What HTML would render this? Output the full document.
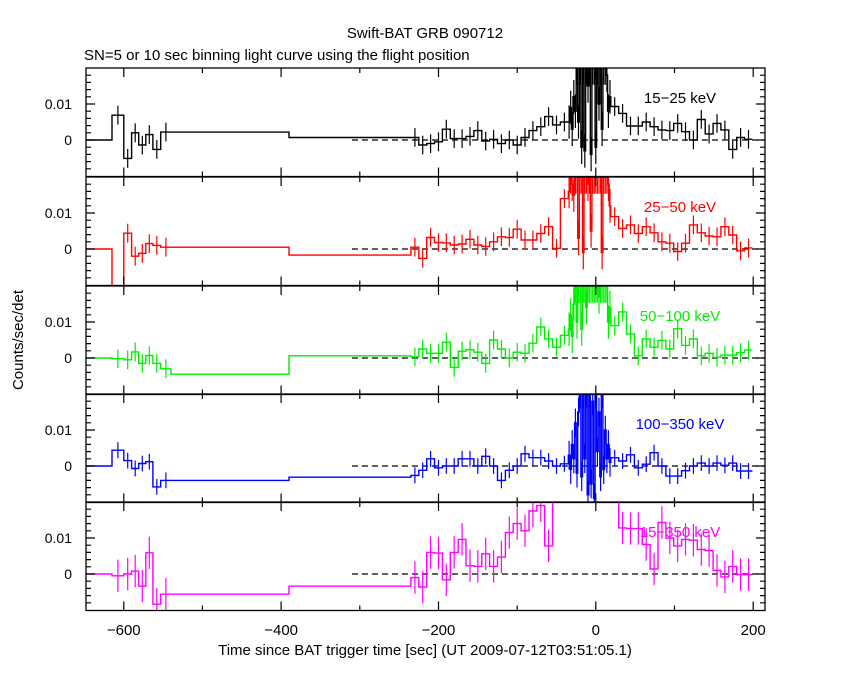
<!DOCTYPE html>
<html><head><meta charset="utf-8"><style>
body{margin:0;background:#fff;}
svg text{font-family:"Liberation Sans",sans-serif;}
</style></head><body>
<svg id="chart" width="850" height="680" xmlns="http://www.w3.org/2000/svg">
<rect width="850" height="680" fill="#fff"/>
<text x="425" y="38" font-size="15" text-anchor="middle">Swift-BAT GRB 090712</text>
<text x="84" y="60" font-size="15">SN=5 or 10 sec binning light curve using the flight position</text>
<text x="0" y="0" font-size="15" text-anchor="middle" transform="translate(23,340) rotate(-90)">Counts/sec/det</text>
<text x="425" y="655" font-size="15" text-anchor="middle">Time since BAT trigger time [sec] (UT 2009-07-12T03:51:05.1)</text>
<g id="plots"></g>
</svg>
<script>
// ---- data (values in units of 0.001 counts/sec/det) ----
const xTicks = [-600, -400, -200, 0, 200];
const xTickLabels = ["-600", "-400", "-200", "0", "200"];
const yTicks = [0, 0.01];
const yTickLabels = ["0", "0.01"];
const bandLabels = ["15\u221225 keV", "25\u221250 keV", "50\u2212100 keV", "100\u2212350 keV", "15\u2212350 keV"];
const bandColors = ["#000000", "#ff0000", "#00ee00", "#0000ff", "#ff00ff"];
const preEdges = [-648, -615, -600, -590, -581, -572, -563, -553, -540, -390, -235];
const pre1 = [0, 6.9, -5.1, 2.0, -1.4, 1.5, -2.6, 2.2, 2.2, 0.7];
const pre2 = [0, -15, 4.4, -2.0, -1.2, 1.5, 1.0, 0.5, 0.5, -1.7];
const pre3 = [0, -0.2, -0.5, 1.7, -1.5, 0.7, -1.5, -3.0, -4.5, 0.6];
const pre4 = [0, 4.4, 1.5, -0.7, 0.7, 1.2, -5.8, -4.0, -4.0, -3.1];
const pre5 = [0, -0.5, 0, 0.8, -3.4, 5.9, -8.4, -5.6, -5.6, -3.4];
const main1 = [0.7,-1.4,-1,-0.5,3,0.4,0.4,1,2.6,-0.3,0.2,-1,0,-1.4,0.7,2.6,3.7,6.5,4.2,5];
const main2 = [0.5,-2.6,3.2,1.8,1.7,1.1,1.4,2.7,1.1,0.7,2,3.4,3.2,5.5,2.5,2.5,4.3,6.2,0.2,14];
const main3 = [0.3,2.5,1.3,1.3,4.4,-2.6,1.9,2.3,1.6,-1.5,5,2.5,0,1.6,1.3,4.1,8.6,5.3,3,6.3];
const main4 = [-2.6,-1.2,2,-0.5,0,0,2,2,0,2.7,0,-4,-1.2,0,3.4,2.3,2.3,1.4,0,0.6];
const main5 = [-1,-3.6,6,5.8,-1.6,6,9.6,2.3,2.1,5.6,2.1,4.7,11.5,14,12,17.5,19,7.8,30,30];
const peak1 = [5,9,3,12,8,20,5,20,-2,20,-3,20,15,20,-4,20,20,-2,20,10,20,3,20,20,18,8,12];
const peak2 = [16,20,18,15,20,20,3,20,20,-1,20,20,18,20,5,20,20,20,20,20,20,-1,20,20,20,18,12];
const peak3 = [8,12,6,15,20,10,20,20,8,20,20,14,20,20,20,20,20,20,20,17,20,20,20,20,20,10,14];
const peak4 = [3,-1,6,2,12,-2,15,20,-3,20,2,20,-8,20,-5,18,-9,20,4,15,-3,20,-1,10,2,6,1];
const peak5 = [30,30,30,30,30,30,30,30,30,30,30,30,30,30,30,30,30,30,30,30,30,30,30,30,30,30,30];
const post1 = [9.3,7.4,3.9,3.9,5,3.7,2.8,2.6,4.6,2.3,0,5.7,1.7,4.6,2.8,-2.6,0.7,0.2];
const post2 = [9,5.7,6.7,4.3,6.2,4.5,2,1.6,-0.7,1.6,6.7,4.5,3.6,3.4,6.2,3.9,-0.5,0.3];
const post3 = [9,12.8,6.7,0.6,5.3,3,4.9,2.5,8.1,3.5,5.3,0.6,1.3,0.2,0.8,0.8,1.5,2.2];
const post4 = [2.3,1.4,3.1,-0.5,0.5,3.7,0,-2.8,-2.8,-1.3,0,0.8,0,0.8,0.2,0.8,-1.4,-1.4];
const post5 = [30,12.8,12.6,12.6,8.2,1.4,14.3,10,7.8,9.6,9.4,6.8,6.5,1,-0.8,2.1,-0.2,-0.2];
const errs = [2.6, 2.6, 2.6, 2.2, 4.5];

const pre = [pre1, pre2, pre3, pre4, pre5];
const mains = [main1, main2, main3, main4, main5];
const peaks = [peak1, peak2, peak3, peak4, peak5];
const posts = [post1, post2, post3, post4, post5];

// ---- axes ----
const X0 = 86, X1 = 765, T0 = -648, T1 = 215;
const panelTops = [68, 177, 286, 394, 502];
const panelH = 108.5;
function xs(t){ return X0 + (t - T0) * (X1 - X0) / (T1 - T0); }
function ys(p, v){ return panelTops[p] + 72 - v * 3.6; } // v in 0.001 units

const NS = "http://www.w3.org/2000/svg";
const root = document.getElementById("plots");
function mk(tag, attrs, parent){
  const e = document.createElementNS(NS, tag);
  for (const k in attrs) e.setAttribute(k, attrs[k]);
  (parent || root).appendChild(e);
  return e;
}

for (let p = 0; p < 5; p++){
  const top = panelTops[p], bot = top + panelH;
  const g = mk("g", {});
  
  
  const cp = mk("clipPath", {id: "clip" + p}, g);
  mk("rect", {x: X0, y: top, width: X1 - X0, height: panelH}, cp);

  const bins = [];
  for (let i = 0; i < pre[p].length; i++) bins.push([preEdges[i], preEdges[i+1], pre[p][i], i >= 1 && i <= 7]);
  for (let i = 0; i < mains[p].length; i++) bins.push([-235 + 10*i, -225 + 10*i, mains[p][i], true]);
  for (let i = 0; i < peaks[p].length; i++) bins.push([-35 + 2*i, -33 + 2*i, peaks[p][i], true]);
  for (let i = 0; i < posts[p].length; i++) bins.push([19 + 10*i, 29 + 10*i, posts[p][i], true]);

  const dz = mk("line", {x1: xs(-310), x2: X1, y1: ys(p,0), y2: ys(p,0), stroke: "#000", "stroke-width": 1.3, "stroke-dasharray": "6,4"}, g);
  
  

  const data = mk("g", {"clip-path": "url(#clip" + p + ")"}, g);
  let d = "";
  bins.forEach((b, i) => {
    const x1 = xs(b[0]), x2 = xs(b[1]), y = ys(p, b[2]);
    d += (i === 0 ? "M" : "L") + x1.toFixed(1) + "," + y.toFixed(1) + "L" + x2.toFixed(1) + "," + y.toFixed(1);
  });
  const path = mk("path", {d: d, fill: "none", stroke: bandColors[p], "stroke-width": 1.4}, data);
  
  
  let ed = "";
  bins.forEach(b => {
    if (!b[3]) return;
    const xc = xs((b[0] + b[1]) / 2);
    const e = b[0] >= -35 && b[1] <= 19 ? errs[p] * 1.8 : errs[p];
    ed += "M" + xc.toFixed(1) + "," + ys(p, b[2] + e).toFixed(1) + "L" + xc.toFixed(1) + "," + ys(p, b[2] - e).toFixed(1);
  });
  const eb = mk("path", {d: ed, fill: "none", stroke: bandColors[p], "stroke-width": 1.2}, data);
  
  

  const fr = mk("rect", {x: X0, y: top, width: X1 - X0, height: panelH, fill: "none", stroke: "#000", "stroke-width": 1.3}, g);
  
  

  let td = "";
  for (let t = -600; t <= 200; t += 100){
    const L = (t % 200 === 0) ? 9 : 5, x = xs(t).toFixed(1);
    td += "M" + x + "," + top + "l0," + L + "M" + x + "," + bot + "l0," + (-L);
  }
  for (let v = -10; v <= 20; v += 2){
    const y = ys(p, v);
    if (y < top + 1 || y > bot - 1) continue;
    const L = (v % 10 === 0) ? 9 : 5;
    td += "M" + X0 + "," + y.toFixed(1) + "l" + L + ",0M" + X1 + "," + y.toFixed(1) + "l" + (-L) + ",0";
  }
  mk("path", {d: td, stroke: "#000", "stroke-width": 1.2, fill: "none"}, g);

  yTicks.forEach((v, i) => {
    const t = mk("text", {x: 72, y: ys(p, v*1000) + 5, "font-size": 14, "text-anchor": "end"}, g);
    t.textContent = yTickLabels[i];
    
    
  });

  const lb = mk("text", {x: 680, y: top + 35, "font-size": 15, "text-anchor": "middle", fill: bandColors[p]}, g);
  lb.textContent = bandLabels[p];
  
  
}

xTicks.forEach((t, i) => {
  const e = mk("text", {x: xs(t), y: 635, "font-size": 15, "text-anchor": "middle"});
  e.textContent = xTickLabels[i].replace("-", "\u2212");
  
  
});
</script>
</body></html>
